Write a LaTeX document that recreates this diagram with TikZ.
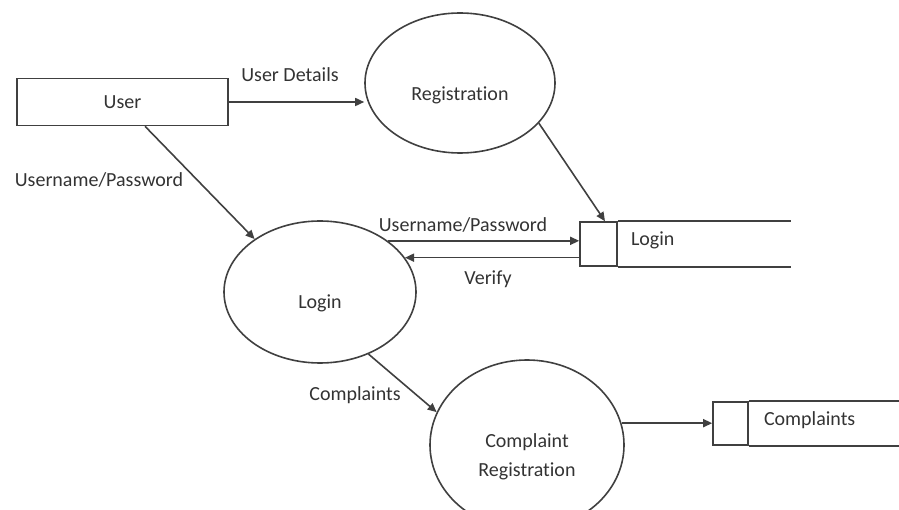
\documentclass[tikz,border=0pt]{standalone}
\usepackage{fontspec}
\setmainfont{Carlito}[Ligatures=NoCommon]
\usetikzlibrary{arrows.meta,shapes.geometric,calc}
\begin{document}
\begin{tikzpicture}[x=1pt,y=-1pt,
  ln/.style={draw=black!75, line width=1.6pt},
  flow/.style={ln, -{Triangle[length=9pt,width=8pt]}},
  txt/.style={text=black!80, font=\fontsize{20}{29}\selectfont, inner sep=0pt},
  proc/.style={ln, ellipse, inner sep=0pt},
  ent/.style={ln, rectangle, inner sep=0pt},
  ]
\useasboundingbox (0,0) rectangle (899,510);

% external entity
\node[ent, minimum width=211pt, minimum height=47pt, txt] (user) at (122.5,102) {User};

% processes
\node[proc, minimum width=190pt, minimum height=140pt,
      label={[txt,yshift=-12pt]center:Registration}] (reg) at (460,83) {};
\node[proc, minimum width=192pt, minimum height=142pt,
      label={[txt,yshift=-11pt]center:Login}] (login) at (320,292) {};
\node[proc, minimum width=194pt, minimum height=170pt,
      label={[txt,yshift=-12pt,align=center]center:Complaint\\Registration}] (creg) at (527,445) {};

% data stores
\node[ent, minimum width=37pt, minimum height=44pt] (lstore) at (598.5,244) {};
\draw[ln] (lstore.north east) -- ++(173,0);
\draw[ln] (lstore.south east) -- ++(173,0);
\node[txt, anchor=west] (lstoret) at ($(lstore.east)+(13,-4)$) {Login};

\node[ent, minimum width=35pt, minimum height=43pt] (cstore) at (730.5,423.5) {};
\draw[ln] (cstore.north east) -- ++(170,0);
\draw[ln] (cstore.south east) -- ++(170,0);
\node[txt, anchor=west] (cstoret) at ($(cstore.east)+(15,-3)$) {Complaints};

% flows
\draw[flow] (user.east) -- (user.east -| reg.west);
\draw[flow] ($(user.south west)!0.606!(user.south east)$) -- (login.141);
\draw[flow] (reg.-27) -- ($(lstore.north)+(6.5,0)$);
\draw[flow] (login.37) -- (login.37 -| lstore.west);
\draw[flow] (login.22 -| lstore.west) -- (login.22);
\draw[flow] (login.-52) -- (creg.160);
\draw[flow] (creg.13) -- (creg.13 -| cstore.west);

% flow labels
\node[txt] (l1) at (290,75) {User Details};
\node[txt] (l2) at (99,180) {Username/Password};
\node[txt] (l3) at (463,225) {Username/Password};
\node[txt] (l4) at (488,279) {Verify};
\node[txt] (l5) at (355,395) {Complaints};
\end{tikzpicture}
\end{document}
